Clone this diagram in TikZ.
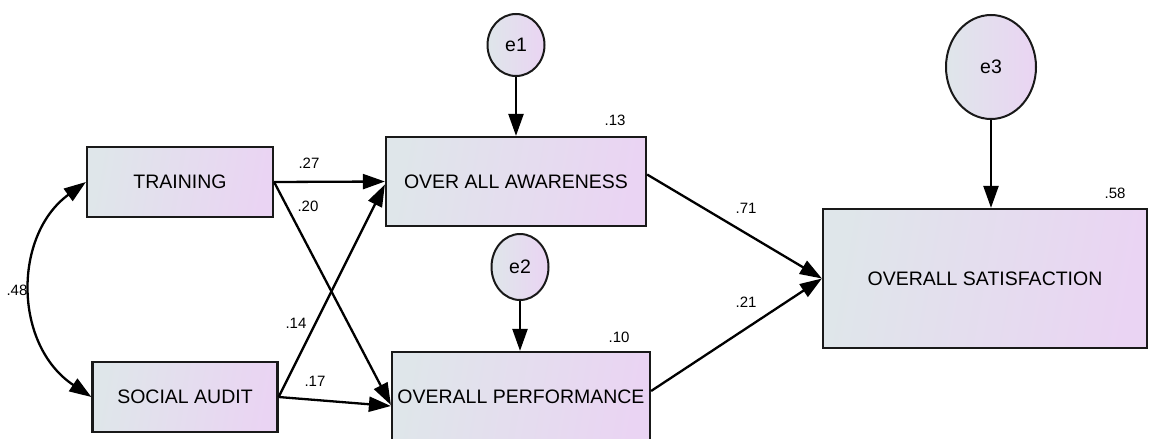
\documentclass[tikz,border=0pt]{standalone}
\usepackage{fontspec}
\setmainfont{Liberation Sans}
\usetikzlibrary{arrows.meta,shapes.geometric}
\definecolor{lc}{RGB}{223,230,234}
\definecolor{rc}{RGB}{234,212,243}
\tikzset{
  var/.style={draw=black!90, line width=2.2pt, rectangle, left color=lc, right color=rc, shading angle=80,
    font=\fontsize{19.5}{22}\selectfont, inner sep=0pt},
  err/.style={draw=black!90, line width=2pt, ellipse, left color=lc, right color=rc,
    font=\fontsize{19.5}{22}\selectfont, inner sep=0pt},
  path/.style={line width=2.3pt, -{Triangle[length=22pt,width=15pt]}},
  lbl/.style={font=\fontsize{15}{17}\selectfont, inner sep=0pt}
}
\begin{document}
\begin{tikzpicture}[x=1pt,y=-1pt]
\useasboundingbox (0,0) rectangle (1149,439);
\clip (0,0) rectangle (1149,439);
% nodes
\node[var, minimum width=186, minimum height=70] (tr) at (180,182) {TRAINING};
\node[var, minimum width=185, minimum height=70] (sa) at (185,397) {SOCIAL AUDIT};
\node[var, minimum width=260, minimum height=89] (aw) at (516,181.5) {OVER ALL AWARENESS};
\node[var, minimum width=258, minimum height=90] (pf) at (521,397) {OVERALL PERFORMANCE};
\node[var, minimum width=324, minimum height=139] (st) at (985,278.5) {OVERALL SATISFACTION};
\node[err, minimum width=57, minimum height=62] (e1) at (516,45) {e1};
\node[err, minimum width=57, minimum height=66] (e2) at (520,267) {e2};
\node[err, minimum width=90, minimum height=104] (e3) at (991,67) {e3};
% paths
\draw[path] (e1.south) -- (e1.south |- aw.north);
\draw[path] (e2.south) -- (e2.south |- pf.north);
\draw[path] (e3.south) -- (e3.south |- st.north);
\draw[path] (tr.east) -- (aw.west);
\draw[path] (tr.east) -- ([yshift=-8pt]pf.west);
\draw[path] (sa.east) -- ([yshift=-3pt]aw.west);
\draw[path] (sa.east) -- ([yshift=-9pt]pf.west);
\draw[path] ([yshift=7pt]aw.east) -- (st.west);
\draw[path] ([yshift=6pt]pf.east) -- (st.west);
\draw[line width=2.3pt, {Triangle[length=22pt,width=15pt]}-{Triangle[length=22pt,width=15pt]}]
  (tr.west) .. controls (13,235) and (13,345) .. (sa.west);
% labels
\node[lbl] (l27) at (309,163) {.27};
\node[lbl] (l20) at (308,206) {.20};
\node[lbl] (l14) at (296,323) {.14};
\node[lbl] (l17) at (315,381) {.17};
\node[lbl] (l48) at (17,290) {.48};
\node[lbl] (l13) at (615,120) {.13};
\node[lbl] (l10) at (619,337) {.10};
\node[lbl] (l58) at (1115,193) {.58};
\node[lbl] (l71) at (746,208) {.71};
\node[lbl] (l21) at (746,302) {.21};
\end{tikzpicture}
\end{document}
